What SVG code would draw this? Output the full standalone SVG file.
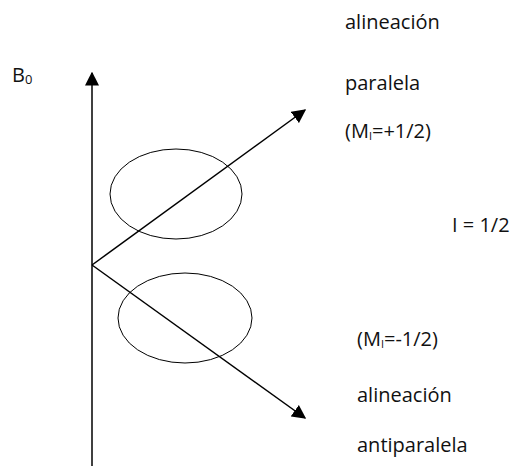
<svg xmlns="http://www.w3.org/2000/svg" width="512" height="466" viewBox="0 0 512 466">
<style>
text{font-family:"Open Sans","Noto Sans",sans-serif;font-size:20px;fill:#111}
.ln{stroke:#000;stroke-width:1.5;fill:none}
.el{stroke:#000;stroke-width:1;fill:none}
</style>
<defs>
<marker id="ahL" viewBox="0 0 10 10" refX="9" refY="5" markerWidth="14" markerHeight="14" markerUnits="userSpaceOnUse" orient="auto">
<path d="M0,0 L10,5 L0,10 z" fill="#000"/>
</marker>
</defs>
<g id="connectors">
<line class="ln" x1="92" y1="466" x2="92" y2="73" marker-end="url(#ahL)"/>
<line class="ln" x1="92" y1="265" x2="305" y2="110" marker-end="url(#ahL)"/>
<line class="ln" x1="92" y1="265" x2="305" y2="418" marker-end="url(#ahL)"/>
</g>
<g id="ellipse-upper"><ellipse class="el" cx="176" cy="194" rx="66" ry="45"/></g>
<g id="ellipse-lower"><ellipse class="el" cx="185" cy="318" rx="67" ry="45"/></g>
<g id="labels">
<text x="12" y="82">B<tspan font-size="13" dy="2">0</tspan></text>
<text x="345" y="29">alineación</text>
<text x="345" y="90">paralela</text>
<text x="345" y="138">(M<tspan font-size="11" dy="2">I</tspan><tspan dy="-2">=+1/2)</tspan></text>
<text x="452" y="232">I = 1/2</text>
<text x="357" y="346">(M<tspan font-size="11" dy="2">I</tspan><tspan dy="-2">=-1/2)</tspan></text>
<text x="357" y="402">alineación</text>
<text x="357" y="452">antiparalela</text>
</g>
</svg>
